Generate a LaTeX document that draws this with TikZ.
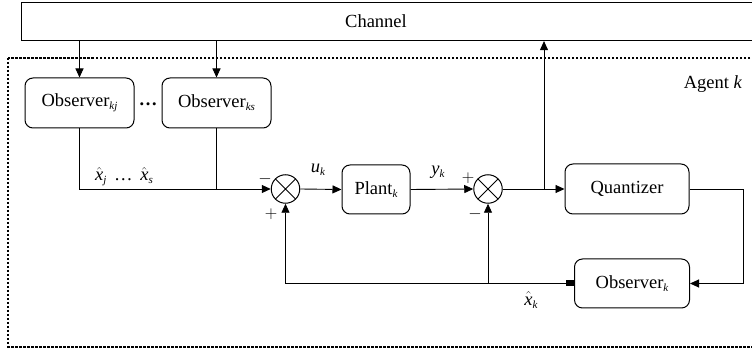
\documentclass[tikz,border=0pt]{standalone}
\usepackage{fontspec}
\setmainfont{Liberation Serif}
\usetikzlibrary{arrows.meta,calc}
\newcommand{\sbk}[1]{\raisebox{-0.35ex}{\fontsize{11}{12}\selectfont\itshape #1}}
\newcommand{\xh}{$\hat{\textit{x}}$}
\begin{document}
\begin{tikzpicture}[x=1pt,y=-1pt,
  font=\fontsize{18.5}{21}\selectfont,
  box/.style={draw, line width=1pt, rounded corners=8pt, align=center, inner sep=0pt},
  arr/.style={-{Triangle[length=9pt,width=8pt]}, line width=0.9pt},
  ln/.style={line width=0.9pt},
  sumc/.style={draw, circle, line width=1pt, minimum size=28.5pt, inner sep=0pt,
    path picture={\draw[line width=1pt] (path picture bounding box.south west) -- (path picture bounding box.north east)
      (path picture bounding box.north west) -- (path picture bounding box.south east);}},
  lbl/.style={inner sep=0pt}]
\useasboundingbox (0,0) rectangle (752,352);
% channel
\node[draw, line width=1.1pt, minimum width=745pt, minimum height=38pt, anchor=north west, inner sep=0pt] (ch) at (21,2) {};
\node[lbl] (chl) at (376,21) {Channel};
% agent box
\draw[line width=1.3pt, dash pattern=on 2.5pt off 1.5pt] (8,58) rectangle (770,347);
\node[lbl] (agent) at (713,84) {Agent \textit{k}};
% observers
\node[box, minimum width=109pt, minimum height=50pt] (o1) at (79.5,103) {Observer\sbk{kj}};
\node[box, minimum width=109pt, minimum height=50pt] (o2) at (216.5,103) {Observer\sbk{ks}};
\node[lbl] (dots) at (148,104) {\textbf{\ldots}};
% loop
\node[sumc] (s1) at (285.5,189) {};
\node[box, minimum width=68pt, minimum height=49pt] (pl) at (376,189.5) {Plant\sbk{k}};
\node[sumc] (s2) at (488,189) {};
\node[box, minimum width=124pt, minimum height=50pt] (q) at (627,189) {Quantizer};
\node[box, minimum width=115pt, minimum height=49pt] (ok) at (632,283.5) {Observer\sbk{k}};
\node[fill, minimum width=8pt, minimum height=6pt, inner sep=0pt, anchor=east] (sq) at (ok.west) {};
\coordinate (br) at (544,189);
% connectors
\draw[arr] (ch.south -| o1.north) -- (o1.north);
\draw[arr] (ch.south -| o2.north) -- (o2.north);
\draw[arr] (o1.south) |- (s1.west);
\draw[ln] (o2.south) -- (o2.south |- s1.west);
\draw[arr] (s1.east) -- (pl.west);
\draw[arr] (pl.east) -- (s2.west);
\draw[arr] (s2.east) -- (q.west);
\draw[arr] (br) -- (br |- ch.south);
\draw[arr] (q.east) -- ++(54,0) |- (ok.east);
\draw[arr] (sq.west) -| (s1.south);
\draw[arr] (s2.south |- ok.west) -- (s2.south);
% labels
\node[lbl] (lx) at (124,177) {\xh\sbk{j} \,{\ldots}\, \xh\sbk{s}};
\node[lbl] (lu) at (318,170) {\textit{u}\sbk{k}};
\node[lbl] (ly) at (438,172) {\textit{y}\sbk{k}};
\node[lbl] (m1) at (265,179) {$-$};
\node[lbl] (p1) at (271,214) {$+$};
\node[lbl] (p2) at (468,178) {$+$};
\node[lbl] (m2) at (475,214) {$-$};
\node[lbl] (lxk) at (531,300) {\xh\sbk{k}};
\end{tikzpicture}
\end{document}
